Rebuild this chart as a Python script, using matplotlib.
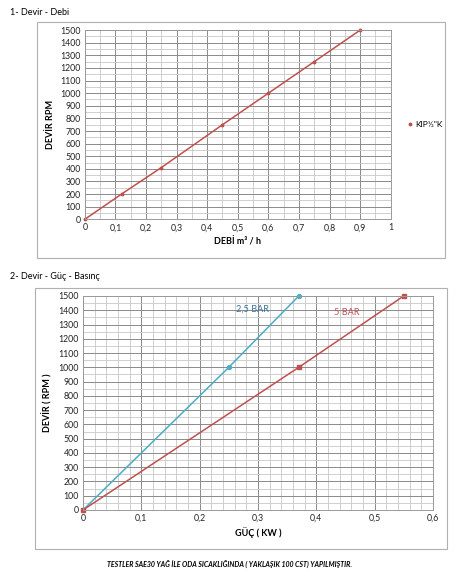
import matplotlib.pyplot as plt
from matplotlib.patches import Rectangle
from matplotlib.lines import Line2D
from matplotlib.ticker import MultipleLocator, FuncFormatter

plt.rcParams['font.family'] = ['Lato', 'DejaVu Sans']

# 1- Devir - Debi
debi = [0, 0.12, 0.25, 0.45, 0.6, 0.75, 0.9]
devir1 = [0, 200, 410, 750, 1000, 1250, 1500]

# 2- Devir - Guc - Basinc
guc_25 = [0, 0.25, 0.37]
devir_25 = [0, 1000, 1500]
guc_5 = [0, 0.37, 0.55]
devir_5 = [0, 1000, 1500]

red = '#c0504d'
blue = '#4bacc6'

fig = plt.figure(figsize=(4.69, 5.80), dpi=100)

def comma(v, pos):
    s = ('%.1f' % v).rstrip('0').rstrip('.')
    return s.replace('.', ',')

def style(ax, xmax, xminor):
    ax.set_ylim(0, 1500)
    ax.set_xlim(0, xmax)
    ax.yaxis.set_major_locator(MultipleLocator(100))
    ax.yaxis.set_minor_locator(MultipleLocator(50))
    ax.xaxis.set_major_locator(MultipleLocator(0.1))
    ax.xaxis.set_minor_locator(MultipleLocator(xminor))
    ax.xaxis.set_major_formatter(FuncFormatter(comma))
    ax.grid(which='major', color='#8a8a8a', lw=0.7)
    ax.grid(which='minor', color='#c8c8c8', lw=0.6)
    ax.set_axisbelow(True)
    ax.tick_params(which='both', length=0, labelsize=6.3, colors='#222222', pad=3)
    for s in ax.spines.values():
        s.set_color('#9a9a9a')
        s.set_linewidth(0.7)

# outer boxes
fig.patches.append(Rectangle((0.0789, 0.555), 0.870, 0.407, transform=fig.transFigure,
                             fill=False, ec='#b0b0b0', lw=0.8))
fig.patches.append(Rectangle((0.0746, 0.0534), 0.878, 0.45, transform=fig.transFigure,
                             fill=False, ec='#b0b0b0', lw=0.8))

fig.text(0.021, 0.979, '1- Devir - Debi', fontsize=6.5, va='center')
fig.text(0.021, 0.524, '2- Devir - Güç - Basınç', fontsize=6.5, va='center')

ax1 = fig.add_axes([0.181, 0.622, 0.652, 0.326])
style(ax1, 1, 0.05)
ax1.plot(debi, devir1, color=red, lw=1.1, marker='o', ms=1.8, clip_on=False)
ax1.set_xlabel('DEBİ m³ / h', fontsize=6.5, fontweight='bold', labelpad=3)
ax1.set_ylabel('DEVİR RPM', fontsize=6.5, fontweight='bold', labelpad=4)
handle = Line2D([], [], color=red, ls='none', marker='o', ms=1.8)
ax1.legend([handle], ['KIP½"K'], loc='center left', bbox_to_anchor=(1.03, 0.5),
           frameon=False, fontsize=6, handlelength=0.6, handletextpad=0.4)

ax2 = fig.add_axes([0.177, 0.1207, 0.746, 0.369])
style(ax2, 0.6, 0.02)
ax2.plot(guc_25, devir_25, color=blue, lw=1.1, marker='o', ms=2.8, clip_on=False)
ax2.plot(guc_5, devir_5, color=red, lw=1.1, marker='s', ms=3.2, clip_on=False)
ax2.text(0.263, 1390, '2,5 BAR', color='#3a6f9a', fontsize=6.6)
ax2.text(0.431, 1370, '5 BAR', color=red, fontsize=6.6)
ax2.set_xlabel('GÜÇ ( KW )', fontsize=6.5, fontweight='bold', labelpad=3)
ax2.set_ylabel('DEVİR ( RPM )', fontsize=6.5, fontweight='bold', labelpad=4)

fig.text(0.49, 0.027, 'TESTLER SAE30 YAĞ İLE ODA SICAKLIĞINDA ( YAKLAŞIK 100 CST) YAPILMIŞTIR.',
         fontsize=5, fontweight='bold', fontstyle='italic', ha='center', va='center')

fig.savefig('out.png', dpi=100)
